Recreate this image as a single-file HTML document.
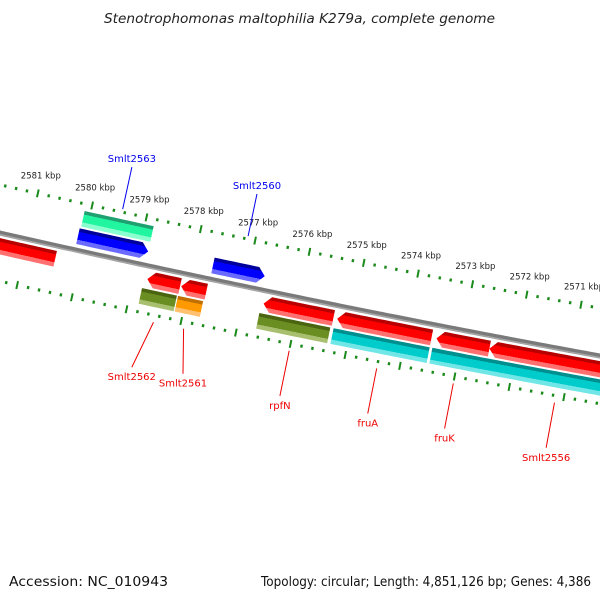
<!DOCTYPE html>
<html><head><meta charset="utf-8"><style>
html,body{margin:0;padding:0;background:#fff;}
svg{display:block;font-family:"DejaVu Sans","Liberation Sans",sans-serif;}
</style></head><body>
<svg id="map" width="600" height="600" viewBox="0 0 600 600" xmlns="http://www.w3.org/2000/svg">
<defs id="defs"></defs>
<text x="104" y="23" textLength="391" lengthAdjust="spacingAndGlyphs" font-size="13" font-style="italic" fill="#222">Stenotrophomonas maltophilia K279a, complete genome</text>
<text x="9" y="586" textLength="159" lengthAdjust="spacingAndGlyphs" font-size="13" fill="#111">Accession: NC_010943</text>
<text x="261" y="586" textLength="330" lengthAdjust="spacingAndGlyphs" font-size="13" fill="#111">Topology: circular; Length: 4,851,126 bp; Genes: 4,386</text>
<g id="ticks"></g>
<g id="backbone"></g>
<g id="features"></g>
<g id="labels"></g>
</svg>
<script>
// feature data (kbp)
const featNames  = ["left-gene","Smlt2563-cds","Smlt2563","Smlt2560","Smlt2562","Smlt2561","rpfN","fruA","fruK","Smlt2556","Smlt2562-cds","Smlt2561-cds","rpfN-cds","fruA-cds","fruK-Smlt2556-cds"];
const featStart  = [2582.0,2580.11,2580.13,2577.65,2578.75,2578.13,2576.62,2575.27,2573.45,2572.48,2578.81,2578.15,2576.66,2575.30,2573.49];
const featEnd    = [2580.44,2578.84,2578.84,2576.70,2578.15,2577.67,2575.34,2573.54,2572.48,2569.0,2578.17,2577.69,2575.36,2573.54,2569.0];
const featLane   = [1,-2,-1,-1,1,1,1,1,1,1,2,2,2,2,2];
const featArrow  = [0,0,1,1,-1,-1,-1,-1,-1,-1,0,0,0,0,0];
const featColor  = ["red","teal","blue","blue","red","red","red","red","red","red","olive","orange","olive","cyan","cyan"];
// tick data
const majorTicks = [2582,2581,2580,2579,2578,2577,2576,2575,2574,2573,2572,2571];
const tickLabels = ["2582 kbp","2581 kbp","2580 kbp","2579 kbp","2578 kbp","2577 kbp","2576 kbp","2575 kbp","2574 kbp","2573 kbp","2572 kbp","2571 kbp"];
// gene labels
const labelText  = ["Smlt2563","Smlt2560","Smlt2562","Smlt2561","rpfN","fruA","fruK","Smlt2556"];
const labelKbp   = [2579.45,2577.14,2578.48,2577.93,2576.0,2574.4,2573.0,2571.15];
const labelSide  = [-1,-1,1,1,1,1,1,1];
const labelLean  = [0,0,-12,9,0,0,0,0];

const NS="http://www.w3.org/2000/svg";
function yb(x){return 233+0.2275*x-0.0000375*x*x;}
function sl(x){return 0.2275-0.000075*x;}
function sOf(k){return 82+(2580-k)*54.5;}
function P(s,d){const m=sl(s),L=Math.sqrt(1+m*m);return [s-m*d/L, yb(s)+d/L];}
function mk(tag,attrs,parent){const e=document.createElementNS(NS,tag);for(const k in attrs)e.setAttribute(k,attrs[k]);parent.appendChild(e);return e;}

const pal={red:["#b80000","#ff0000","#ff7070"],blue:["#00009a","#0000ff","#6a6aff"],teal:["#1fa070","#22f5a0","#8affd0"],
olive:["#4a6410","#6b8e23","#a8bf70"],orange:["#c07000","#ff9900","#ffc070"],cyan:["#008f8f","#00cccc","#70e6e6"]};
const defs=document.getElementById('defs');

// ticks
const tg=document.getElementById('ticks');
for(let side of [-1,1]){
  for(let i=0;i<=75;i++){
    const k=2583-i*0.2; const s=sOf(k); if(s<-20||s>640)continue;
    const major=Math.abs(k-Math.round(k))<1e-6;
    const h=major?4:1.5;
    const a=P(s,side*47-h),b=P(s,side*47+h);
    const t=mk('line',{x1:a[0],y1:a[1],x2:b[0],y2:b[1],stroke:"#1a8a1a","stroke-width":major?2:2.4},tg);
    
    
  }
}
majorTicks.forEach((k,i)=>{
  const p=P(sOf(k),-47);
  if(p[0]<-10||p[0]>620)return;
  const t=mk('text',{x:p[0]+3,y:p[1]-15,"font-size":"8.5","text-anchor":"middle",fill:"#222"},tg);
  t.textContent=tickLabels[i];
  
  
});

// backbone
const bg=document.getElementById('backbone');
function pathAt(d,s0,s1){let p="";for(let s=s0;s<=s1;s+=5){const q=P(s,d);p+=(p?"L":"M")+q[0].toFixed(2)+","+q[1].toFixed(2);}return p;}
const b1=mk('path',{d:pathAt(0,-20,640),stroke:"#7a7a7a","stroke-width":5,fill:"none"},bg);


const b2=mk('path',{d:pathAt(1.6,-20,640),stroke:"#a6a6a6","stroke-width":1.5,fill:"none"},bg);



// features
const fg=document.getElementById('features');
const lanes={"-2":[-40,-24],"-1":[-22,-6],"1":[5,21],"2":[23,39]};
featNames.forEach((n,i)=>{
  let s0=sOf(featStart[i]),s1=sOf(featEnd[i]);
  const [d0,d1]=lanes[featLane[i]]; const dm=(d0+d1)/2;
  const ah=7; let pts=[];
  let a=s0,b=s1;
  if(featArrow[i]===1)b=s1-ah; if(featArrow[i]===-1)a=s0+ah;
  const N=Math.max(2,Math.ceil((b-a)/5));
  for(let j=0;j<=N;j++)pts.push(P(a+(b-a)*j/N,d0));
  if(featArrow[i]===1){pts.push(P(s1,dm));}
  for(let j=N;j>=0;j--)pts.push(P(a+(b-a)*j/N,d1));
  if(featArrow[i]===-1){pts.push(P(s0,dm));}
  const sm=(s0+s1)/2,g1=P(sm,d0),g2=P(sm,d1);
  const c=pal[featColor[i]];
  const gr=mk('linearGradient',{id:"g"+i,gradientUnits:"userSpaceOnUse",x1:g1[0],y1:g1[1],x2:g2[0],y2:g2[1]},defs);
  [[0,c[0]],[0.22,c[0]],[0.22,c[1]],[0.72,c[1]],[0.72,c[2]],[1,c[2]]].forEach(st=>mk('stop',{offset:st[0],"stop-color":st[1]},gr));
  const poly=mk('polygon',{points:pts.map(p=>p[0].toFixed(2)+","+p[1].toFixed(2)).join(" "),fill:"url(#g"+i+")"},fg);
  
  
});

// gene labels
const lg=document.getElementById('labels');
labelText.forEach((t,i)=>{
  const side=labelSide[i], col=side<0?"#0000ee":"#ee0000";
  const s=sOf(labelKbp[i]);
  const a=side<0?P(s,-50):P(s,54), b0=side<0?P(s,-93):P(s,100);
  const b=[b0[0]+labelLean[i],b0[1]];
  const ln=mk('line',{x1:a[0],y1:a[1],x2:b[0],y2:b[1],stroke:col,"stroke-width":1},lg);
  
  
  const tx=mk('text',{x:b[0],y:side<0?b[1]-5:b[1]+13,"font-size":"10","text-anchor":"middle",fill:col},lg);
  tx.textContent=t;
  
  
});
</script>
</body></html>
